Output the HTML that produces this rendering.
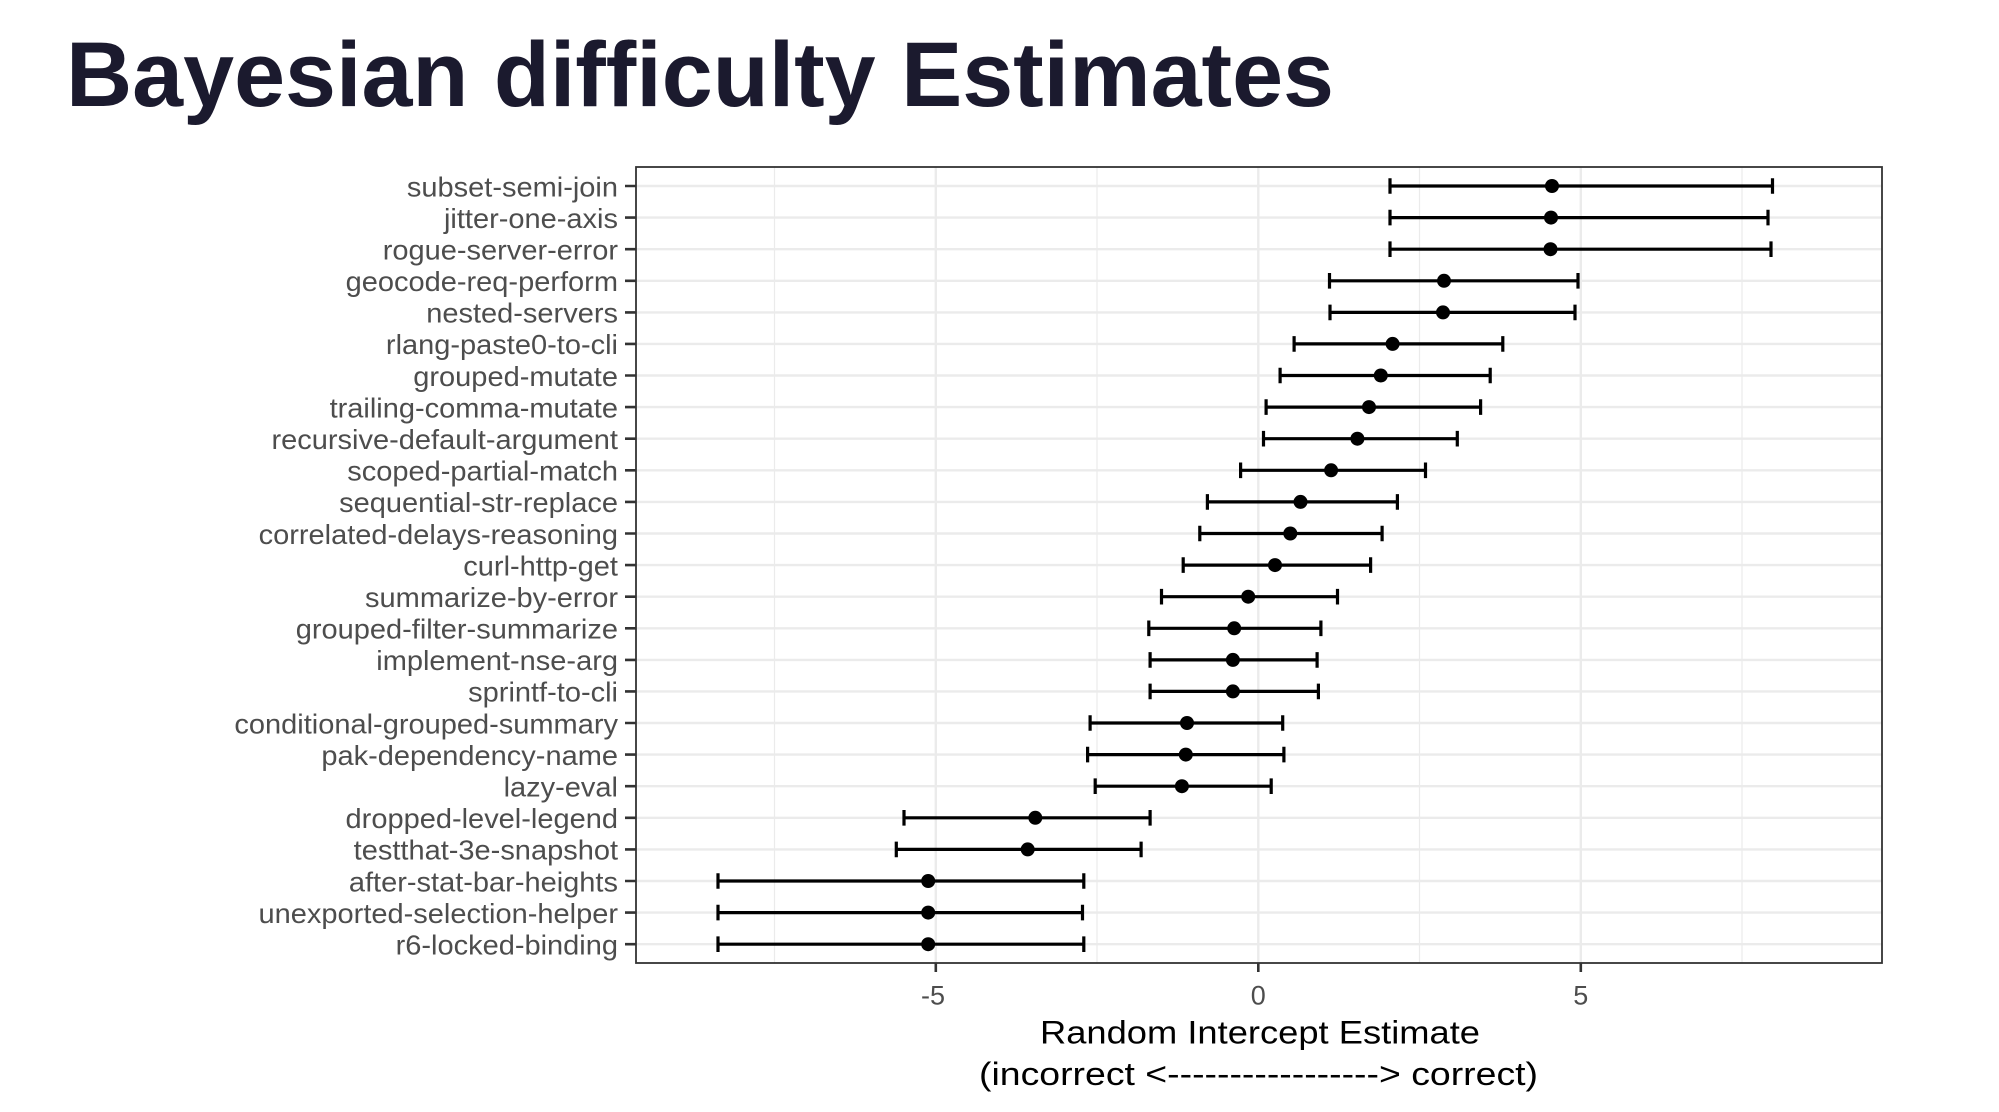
<!DOCTYPE html>
<html>
<head>
<meta charset="utf-8">
<style>
html,body{margin:0;padding:0;background:#fff;}
svg{display:block;}
</style>
</head>
<body>
<svg width="1999" height="1112" viewBox="0 0 1999 1112" xmlns="http://www.w3.org/2000/svg">
<rect x="0" y="0" width="1999" height="1112" fill="#ffffff"/>
<text x="66" y="106" font-family="Liberation Sans, sans-serif" font-weight="bold" font-size="92" fill="#1b1a2e" textLength="1268" lengthAdjust="spacingAndGlyphs">Bayesian difficulty Estimates</text>

<!-- panel background grid -->
<g stroke="#ebebeb" fill="none">
  <g stroke-width="1.2">
    <line x1="774.5" y1="167" x2="774.5" y2="963"/>
    <line x1="1097" y1="167" x2="1097" y2="963"/>
    <line x1="1419.5" y1="167" x2="1419.5" y2="963"/>
    <line x1="1742" y1="167" x2="1742" y2="963"/>
  </g>
  <g stroke-width="2.4">
    <line x1="935.8" y1="167" x2="935.8" y2="963"/>
    <line x1="1258.3" y1="167" x2="1258.3" y2="963"/>
    <line x1="1580.8" y1="167" x2="1580.8" y2="963"/>
    <line x1="636" y1="186" x2="1882" y2="186"/>
    <line x1="636" y1="217.6" x2="1882" y2="217.6"/>
    <line x1="636" y1="249.2" x2="1882" y2="249.2"/>
    <line x1="636" y1="280.8" x2="1882" y2="280.8"/>
    <line x1="636" y1="312.4" x2="1882" y2="312.4"/>
    <line x1="636" y1="343.9" x2="1882" y2="343.9"/>
    <line x1="636" y1="375.5" x2="1882" y2="375.5"/>
    <line x1="636" y1="407.1" x2="1882" y2="407.1"/>
    <line x1="636" y1="438.7" x2="1882" y2="438.7"/>
    <line x1="636" y1="470.3" x2="1882" y2="470.3"/>
    <line x1="636" y1="501.9" x2="1882" y2="501.9"/>
    <line x1="636" y1="533.5" x2="1882" y2="533.5"/>
    <line x1="636" y1="565.1" x2="1882" y2="565.1"/>
    <line x1="636" y1="596.7" x2="1882" y2="596.7"/>
    <line x1="636" y1="628.3" x2="1882" y2="628.3"/>
    <line x1="636" y1="659.9" x2="1882" y2="659.9"/>
    <line x1="636" y1="691.4" x2="1882" y2="691.4"/>
    <line x1="636" y1="723" x2="1882" y2="723"/>
    <line x1="636" y1="754.6" x2="1882" y2="754.6"/>
    <line x1="636" y1="786.2" x2="1882" y2="786.2"/>
    <line x1="636" y1="817.8" x2="1882" y2="817.8"/>
    <line x1="636" y1="849.4" x2="1882" y2="849.4"/>
    <line x1="636" y1="881" x2="1882" y2="881"/>
    <line x1="636" y1="912.6" x2="1882" y2="912.6"/>
    <line x1="636" y1="944.2" x2="1882" y2="944.2"/>
  </g>
</g>

<!-- error bars -->
<g stroke="#000" stroke-width="3.2" fill="none">
<path d="M1390 186H1772.5M1390 178.2V193.8M1772.5 178.2V193.8"/>
<path d="M1390 217.6H1768M1390 209.8V225.4M1768 209.8V225.4"/>
<path d="M1390 249.2H1771M1390 241.4V257M1771 241.4V257"/>
<path d="M1329.5 280.8H1578M1329.5 273V288.6M1578 273V288.6"/>
<path d="M1330 312.4H1575M1330 304.6V320.2M1575 304.6V320.2"/>
<path d="M1294.1 343.9H1502.8M1294.1 336.1V351.7M1502.8 336.1V351.7"/>
<path d="M1280.1 375.5H1490.2M1280.1 367.7V383.3M1490.2 367.7V383.3"/>
<path d="M1266.1 407.1H1480.6M1266.1 399.3V414.9M1480.6 399.3V414.9"/>
<path d="M1263.5 438.7H1457.3M1263.5 430.9V446.5M1457.3 430.9V446.5"/>
<path d="M1240.6 470.3H1425.5M1240.6 462.5V478.1M1425.5 462.5V478.1"/>
<path d="M1207.4 501.9H1397.4M1207.4 494.1V509.7M1397.4 494.1V509.7"/>
<path d="M1199.8 533.5H1382.1M1199.8 525.7V541.3M1382.1 525.7V541.3"/>
<path d="M1183.2 565.1H1370.6M1183.2 557.3V572.9M1370.6 557.3V572.9"/>
<path d="M1161.5 596.7H1337.5M1161.5 588.9V604.5M1337.5 588.9V604.5"/>
<path d="M1148.8 628.3H1320.9M1148.8 620.5V636.1M1320.9 620.5V636.1"/>
<path d="M1150.1 659.9H1317.1M1150.1 652.1V667.7M1317.1 652.1V667.7"/>
<path d="M1150.1 691.4H1318.4M1150.1 683.6V699.2M1318.4 683.6V699.2"/>
<path d="M1090.1 723H1282.7M1090.1 715.2V730.8M1282.7 715.2V730.8"/>
<path d="M1087.6 754.6H1283.9M1087.6 746.8V762.4M1283.9 746.8V762.4"/>
<path d="M1095.2 786.2H1271.2M1095.2 778.4V794M1271.2 778.4V794"/>
<path d="M904 817.8H1150.1M904 810V825.6M1150.1 810V825.6"/>
<path d="M896.3 849.4H1141.1M896.3 841.6V857.2M1141.1 841.6V857.2"/>
<path d="M718 881H1083.8M718 873.2V888.8M1083.8 873.2V888.8"/>
<path d="M718 912.6H1082.5M718 904.8V920.4M1082.5 904.8V920.4"/>
<path d="M718 944.2H1083.8M718 936.4V952M1083.8 936.4V952"/>
</g>

<!-- points -->
<g fill="#000">
<circle cx="1552" cy="186" r="7"/>
<circle cx="1551" cy="217.6" r="7"/>
<circle cx="1550.5" cy="249.2" r="7"/>
<circle cx="1444" cy="280.8" r="7"/>
<circle cx="1443" cy="312.4" r="7"/>
<circle cx="1392.6" cy="343.9" r="7"/>
<circle cx="1380.8" cy="375.5" r="7"/>
<circle cx="1369" cy="407.1" r="7"/>
<circle cx="1357.4" cy="438.7" r="7"/>
<circle cx="1331.1" cy="470.3" r="7"/>
<circle cx="1300.5" cy="501.9" r="7"/>
<circle cx="1290.3" cy="533.5" r="7"/>
<circle cx="1275" cy="565.1" r="7"/>
<circle cx="1248.2" cy="596.7" r="7"/>
<circle cx="1234.2" cy="628.3" r="7"/>
<circle cx="1232.9" cy="659.9" r="7"/>
<circle cx="1232.9" cy="691.4" r="7"/>
<circle cx="1187" cy="723" r="7"/>
<circle cx="1185.8" cy="754.6" r="7"/>
<circle cx="1181.9" cy="786.2" r="7"/>
<circle cx="1035.3" cy="817.8" r="7"/>
<circle cx="1027.7" cy="849.4" r="7"/>
<circle cx="928.2" cy="881" r="7"/>
<circle cx="928.2" cy="912.6" r="7"/>
<circle cx="928.2" cy="944.2" r="7"/>
</g>

<!-- panel border -->
<rect x="636" y="167" width="1246" height="796" fill="none" stroke="#333333" stroke-width="1.8"/>

<!-- ticks -->
<g stroke="#333333" stroke-width="2.6">
<path d="M625 186H636M625 217.6H636M625 249.2H636M625 280.8H636M625 312.4H636M625 343.9H636M625 375.5H636M625 407.1H636M625 438.7H636M625 470.3H636M625 501.9H636M625 533.5H636M625 565.1H636M625 596.7H636M625 628.3H636M625 659.9H636M625 691.4H636M625 723H636M625 754.6H636M625 786.2H636M625 817.8H636M625 849.4H636M625 881H636M625 912.6H636M625 944.2H636"/>
<path d="M935.8 963V972M1258.3 963V972M1580.8 963V972"/>
</g>

<!-- y labels -->
<g transform="translate(618,0) scale(1.055,1) translate(-618,0)" font-family="Liberation Sans, sans-serif" font-size="27.5" fill="#4d4d4d" text-anchor="end">
<text x="618" y="196.3">subset-semi-join</text>
<text x="618" y="227.9">jitter-one-axis</text>
<text x="618" y="259.5">rogue-server-error</text>
<text x="618" y="291.1">geocode-req-perform</text>
<text x="618" y="322.7">nested-servers</text>
<text x="618" y="354.2">rlang-paste0-to-cli</text>
<text x="618" y="385.8">grouped-mutate</text>
<text x="618" y="417.4">trailing-comma-mutate</text>
<text x="618" y="449">recursive-default-argument</text>
<text x="618" y="480.6">scoped-partial-match</text>
<text x="618" y="512.2">sequential-str-replace</text>
<text x="618" y="543.8">correlated-delays-reasoning</text>
<text x="618" y="575.4">curl-http-get</text>
<text x="618" y="607">summarize-by-error</text>
<text x="618" y="638.6">grouped-filter-summarize</text>
<text x="618" y="670.2">implement-nse-arg</text>
<text x="618" y="701.7">sprintf-to-cli</text>
<text x="618" y="733.3">conditional-grouped-summary</text>
<text x="618" y="764.9">pak-dependency-name</text>
<text x="618" y="796.5">lazy-eval</text>
<text x="618" y="828.1">dropped-level-legend</text>
<text x="618" y="859.7">testthat-3e-snapshot</text>
<text x="618" y="891.3">after-stat-bar-heights</text>
<text x="618" y="922.9">unexported-selection-helper</text>
<text x="618" y="954.5">r6-locked-binding</text>
</g>

<!-- x tick labels -->
<g font-family="Liberation Sans, sans-serif" font-size="27" fill="#4d4d4d" text-anchor="middle">
<text x="933" y="1004.5">-5</text>
<text x="1258.3" y="1004.5">0</text>
<text x="1580.8" y="1004.5">5</text>
</g>

<!-- axis title -->
<g font-family="Liberation Sans, sans-serif" font-size="32" fill="#000">
<text x="1040" y="1043.5" textLength="440" lengthAdjust="spacingAndGlyphs">Random Intercept Estimate</text>
<text x="979" y="1085" textLength="559" lengthAdjust="spacingAndGlyphs">(incorrect &lt;-----------------&gt; correct)</text>
</g>
</svg>
</body>
</html>
